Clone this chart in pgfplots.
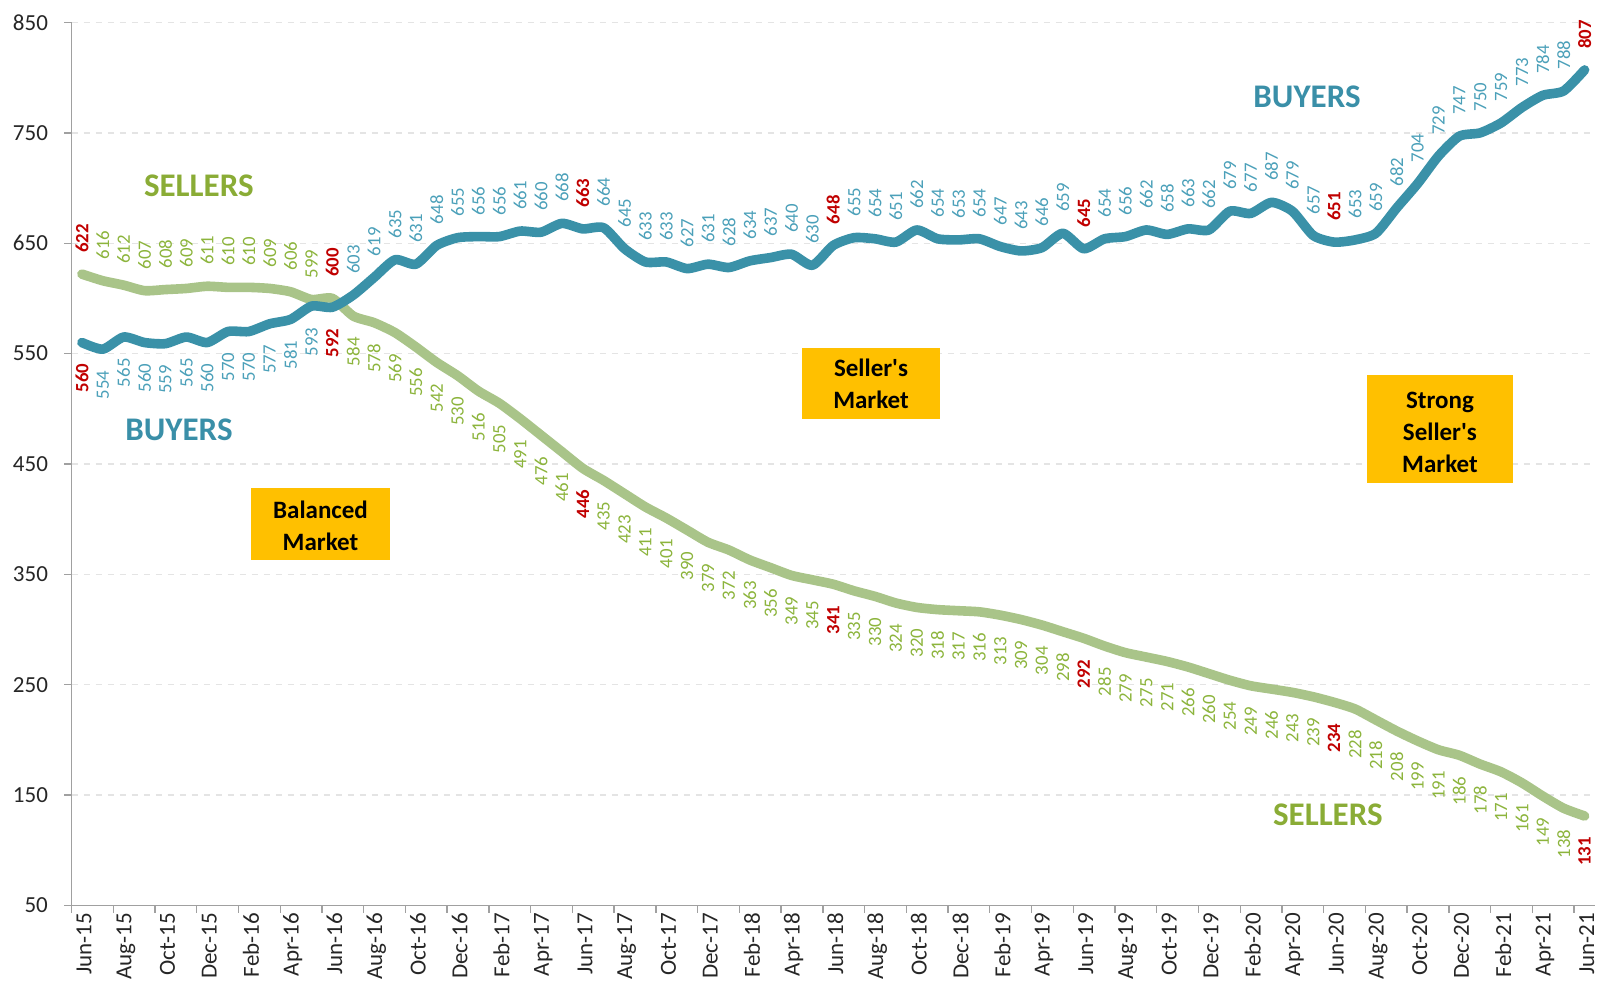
\documentclass[border=0pt]{standalone}
\usepackage{pgfplots}
\pgfplotsset{compat=1.18}
\usepackage{pgfplotstable}
\usepackage{fontspec}
\setmainfont{Carlito}
\definecolor{buyline}{RGB}{58,145,168}
\definecolor{buylab}{RGB}{75,160,185}
\definecolor{buytxt}{RGB}{58,143,168}
\definecolor{sellline}{RGB}{169,196,137}
\definecolor{selllab}{RGB}{140,180,60}
\definecolor{selltxt}{RGB}{138,172,54}
\definecolor{labred}{RGB}{192,0,0}
\definecolor{boxfill}{RGB}{255,192,0}
\definecolor{axgray}{RGB}{160,160,160}
\definecolor{gridgray}{RGB}{228,228,228}

\pgfplotstableread{
x b s r
0 560 622 1
1 554 616 0
2 565 612 0
3 560 607 0
4 559 608 0
5 565 609 0
6 560 611 0
7 570 610 0
8 570 610 0
9 577 609 0
10 581 606 0
11 593 599 0
12 592 600 1
13 603 584 0
14 619 578 0
15 635 569 0
16 631 556 0
17 648 542 0
18 655 530 0
19 656 516 0
20 656 505 0
21 661 491 0
22 660 476 0
23 668 461 0
24 663 446 1
25 664 435 0
26 645 423 0
27 633 411 0
28 633 401 0
29 627 390 0
30 631 379 0
31 628 372 0
32 634 363 0
33 637 356 0
34 640 349 0
35 630 345 0
36 648 341 1
37 655 335 0
38 654 330 0
39 651 324 0
40 662 320 0
41 654 318 0
42 653 317 0
43 654 316 0
44 647 313 0
45 643 309 0
46 646 304 0
47 659 298 0
48 645 292 1
49 654 285 0
50 656 279 0
51 662 275 0
52 658 271 0
53 663 266 0
54 662 260 0
55 679 254 0
56 677 249 0
57 687 246 0
58 679 243 0
59 657 239 0
60 651 234 1
61 653 228 0
62 659 218 0
63 682 208 0
64 704 199 0
65 729 191 0
66 747 186 0
67 750 178 0
68 759 171 0
69 773 161 0
70 784 149 0
71 788 138 0
72 807 131 1
}\data

\pgfplotsset{
  lab/.style={draw=none, mark=none, forget plot,
    point meta=explicit symbolic,
    visualization depends on={\thisrow{r} \as \isred},
    nodes near coords={\ifdim\isred pt>0.5pt \color{labred}\bfseries\fi\pgfplotspointmeta}},
  labup/.style={every node near coord/.style={yshift=10.5pt, rotate=90, anchor=west, inner sep=0pt, font=\fontsize{9.4}{10}\selectfont, text=#1}},
  labdown/.style={every node near coord/.style={yshift=-10.5pt, rotate=90, anchor=east, inner sep=0pt, font=\fontsize{9.4}{10}\selectfont, text=#1}},
}

\begin{document}
\begin{tikzpicture}
\begin{axis}[
  scale only axis, width=761.75pt, height=441.45pt,
  xmin=-0.5, xmax=72.5, ymin=50, ymax=850,
  clip=false,
  axis x line*=bottom, axis y line*=left,
  axis line style={draw=axgray, line width=0.7pt},
  ytick={50,150,...,850},
  xtick={-0.5,1.5,...,71.5},
  xticklabels={Jun-15,Aug-15,Oct-15,Dec-15,Feb-16,Apr-16,Jun-16,Aug-16,Oct-16,Dec-16,Feb-17,Apr-17,Jun-17,Aug-17,Oct-17,Dec-17,Feb-18,Apr-18,Jun-18,Aug-18,Oct-18,Dec-18,Feb-19,Apr-19,Jun-19,Aug-19,Oct-19,Dec-19,Feb-20,Apr-20,Jun-20,Aug-20,Oct-20,Dec-20,Feb-21,Apr-21,Jun-21},
  tick align=outside, major tick length=3.6pt,
  tick style={draw=axgray, line width=0.7pt},
  /pgf/number format/assume math mode=true,
  ticklabel style={font=\fontsize{11.5}{13}\selectfont, text=black!85},
  xticklabel style={xshift=1.8pt, rotate=90, anchor=east, inner sep=0pt, yshift=-4.5pt},
  yticklabel style={inner sep=0pt, xshift=-8pt},
  ymajorgrids, grid style={draw=gridgray, line width=0.7pt, dash pattern=on 3pt off 3pt},
]
\addplot[sellline, line width=4.8pt, smooth, tension=0.4, line cap=round, line join=round] table[x=x,y=s]{\data};
\addplot[buyline, line width=4.8pt, smooth, tension=0.4, line cap=round, line join=round] table[x=x,y=b]{\data};

\addplot[lab, labdown=buylab, restrict x to domain=0:12] table[x=x,y=b,meta=b]{\data};
\addplot[lab, labup=buylab, restrict x to domain=13:72] table[x=x,y=b,meta=b]{\data};
\addplot[lab, labup=selllab, restrict x to domain=0:12] table[x=x,y=s,meta=s]{\data};
\addplot[lab, labdown=selllab, restrict x to domain=13:72] table[x=x,y=s,meta=s]{\data};

\node[font=\fontsize{16.5}{18}\selectfont\bfseries, text=selltxt] at (axis cs:5.6,702) {SELLERS};
\node[font=\fontsize{16.5}{18}\selectfont\bfseries, text=buytxt] at (axis cs:4.65,481) {BUYERS};
\node[font=\fontsize{16.5}{18}\selectfont\bfseries, text=buytxt] at (axis cs:58.7,782.5) {BUYERS};
\node[font=\fontsize{16.5}{18}\selectfont\bfseries, text=selltxt] at (axis cs:59.7,132) {SELLERS};

\fill[boxfill] (axis cs:11.43,395.6) ++(-34.75pt,-18pt) rectangle ++(69.5pt,36pt);
\node[inner sep=0pt, align=center, yshift=-1pt, font=\fontsize{12.5}{15.9}\selectfont\bfseries] at (axis cs:11.43,395.6) {Balanced\\Market};
\fill[boxfill] (axis cs:37.81,522.9) ++(-34.5pt,-17.75pt) rectangle ++(69pt,35.5pt);
\node[inner sep=0pt, align=center, font=\fontsize{12.5}{15.9}\selectfont\bfseries] at (axis cs:37.81,522.9) {Seller\textquotesingle s\\Market};
\fill[boxfill] (axis cs:65.07,481.7) ++(-36.5pt,-27pt) rectangle ++(73pt,54pt);
\node[inner sep=0pt, align=center, yshift=-1.8pt, font=\fontsize{12.5}{15.9}\selectfont\bfseries] at (axis cs:65.07,481.7) {Strong\\Seller\textquotesingle s\\Market};

\coordinate (bbsw) at (rel axis cs:-0.04693,-0.10375);
\coordinate (bbne) at (rel axis cs:1.00722,1.02548);
\end{axis}
\pgfresetboundingbox
\path (bbsw) rectangle (bbne);
\end{tikzpicture}
\end{document}
